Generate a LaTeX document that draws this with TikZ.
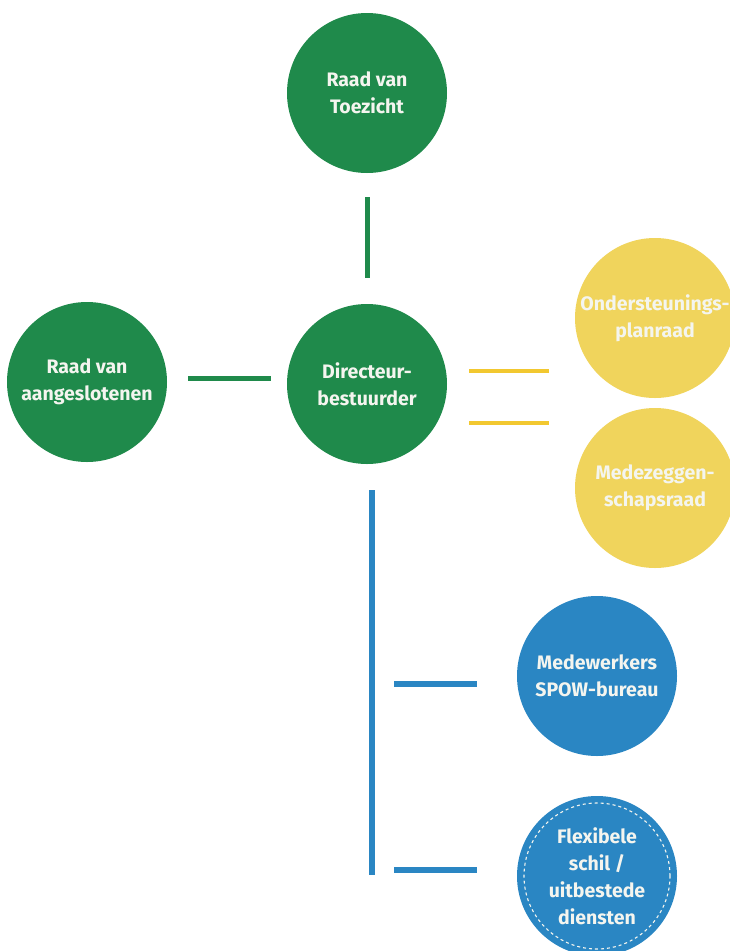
\documentclass[tikz,border=0pt]{standalone}
\usepackage{fontspec}
\setmainfont{Fira Sans}
\definecolor{cgreen}{HTML}{1F8A4B}
\definecolor{cyellow}{HTML}{F0D45C}
\definecolor{cyline}{HTML}{F2C830}
\definecolor{cblue}{HTML}{2A86C3}
\definecolor{txt}{HTML}{F4F5EF}
\begin{document}
\begin{tikzpicture}[x=1pt,y=-1pt,
  org/.style={circle, minimum size=160pt, inner sep=-20pt, align=center, text=txt,
    font=\fontsize{19.5}{27}\selectfont\bfseries},
  gnode/.style={org, fill=cgreen},
  ynode/.style={org, fill=cyellow},
  bnode/.style={org, fill=cblue},
  glink/.style={draw=cgreen, line width=5pt},
  ylink/.style={draw=cyline, line width=4pt},
  blink/.style={draw=cblue, line width=5.5pt}]
\useasboundingbox (0,0) rectangle (730,951);
\fill[white] (0,0) rectangle (730,951);

\node[gnode] (rvt) at (367,93) {Raad van\\Toezicht};
\node[gnode] (rva) at (87,382) {Raad van\\aangeslotenen};
\node[gnode] (dir) at (367,384) {Directeur-\\bestuurder};
\node[ynode] (opr) at (655,318) {Ondersteunings-\\planraad};
\node[ynode] (mr) at (655,488) {Medezeggen-\\schapsraad};
\node[bnode] (med) at (597,676) {Medewerkers\\SPOW-bureau};
\node[bnode] (flex) at (597,876) {Flexibele\\schil /\\uitbestede\\diensten};
\node[circle, draw=txt, dashed, line width=1.1pt, minimum size=146pt, inner sep=0pt] (flexring) at (flex.center) {};

\coordinate (g1a) at (367,197);
\coordinate (g1b) at (367,278);
\coordinate (g2a) at (188,378);
\coordinate (g2b) at (271,378);
\coordinate (y1a) at (469,371);
\coordinate (y1b) at (549,371);
\coordinate (y2a) at (469,423);
\coordinate (y2b) at (549,423);
\coordinate (b0a) at (372,490);
\coordinate (b0b) at (372,875);
\coordinate (b1a) at (394,684);
\coordinate (b1b) at (477,684);
\coordinate (b2a) at (394,870);
\coordinate (b2b) at (477,870);

\draw[glink] (g1a) -- (g1b);
\draw[glink] (g2a) -- (g2b);
\draw[ylink] (y1a) -- (y1b);
\draw[ylink] (y2a) -- (y2b);
\draw[blink] (b0a) -- (b0b);
\draw[blink] (b1a) -- (b1b);
\draw[blink] (b2a) -- (b2b);
\end{tikzpicture}
\end{document}
